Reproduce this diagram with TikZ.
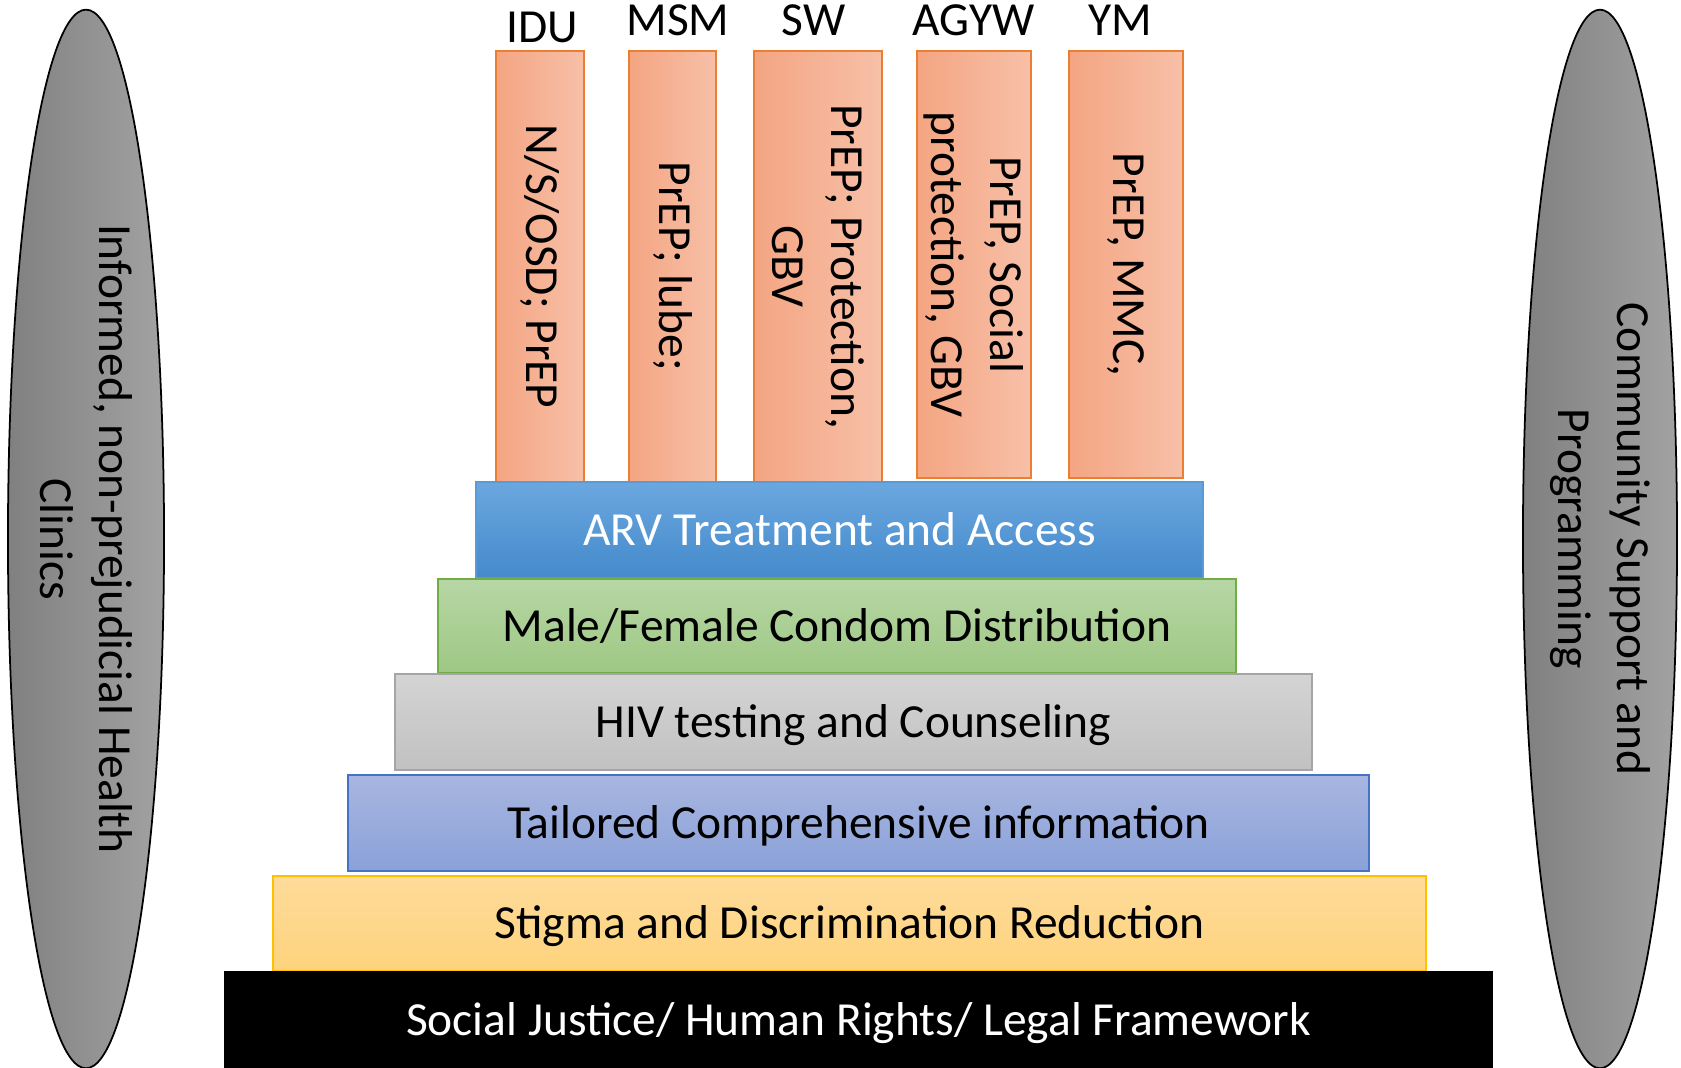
\documentclass[tikz,border=0pt]{standalone}
\usepackage{fontspec}
\setmainfont{Carlito}
\usetikzlibrary{shapes.geometric}
\definecolor{colL}{RGB}{244,165,130}
\definecolor{colR}{RGB}{247,192,168}
\definecolor{colline}{RGB}{237,125,49}
\definecolor{arvT}{RGB}{107,167,223}
\definecolor{arvB}{RGB}{68,138,204}
\definecolor{arvline}{RGB}{91,155,213}
\definecolor{conT}{RGB}{183,214,165}
\definecolor{conB}{RGB}{158,200,132}
\definecolor{conline}{RGB}{112,173,71}
\definecolor{hivT}{RGB}{212,212,212}
\definecolor{hivB}{RGB}{193,193,193}
\definecolor{hivline}{RGB}{165,165,165}
\definecolor{infT}{RGB}{168,182,224}
\definecolor{infB}{RGB}{138,161,216}
\definecolor{infline}{RGB}{68,114,196}
\definecolor{stgT}{RGB}{254,219,154}
\definecolor{stgB}{RGB}{254,211,125}
\definecolor{stgline}{RGB}{255,192,0}
\definecolor{ovalL}{RGB}{128,128,128}
\definecolor{ovalR}{RGB}{162,162,162}
\newcommand{\pyrfont}{\fontsize{13.5}{16.8}\selectfont}
\begin{document}
\begin{tikzpicture}[
  x=0.01cm, y=0.01cm,
  tier/.style={draw=#1, line width=0.5pt, inner sep=0pt,
               minimum height=0.96cm, font=\pyrfont,
               text height=0.86em, text depth=0pt},
  col/.style={draw=colline, line width=0.5pt, rotate=-90,
              left color=colL, right color=colR, align=center,
              inner sep=0pt, font=\pyrfont},
  grp/.style={anchor=base, inner sep=0pt, font=\pyrfont},
  oval/.style={ellipse, draw=black, line width=0.5pt, rotate=-90,
               left color=ovalL, right color=ovalR, align=center,
               inner sep=0pt, minimum width=10.58cm, font=\pyrfont},
]
\useasboundingbox (0,0) rectangle (1681,1068);
%% side ovals
\node[oval, minimum height=1.56cm] (clinics) at (86,529)
  {Informed, non-prejudicial Health\\Clinics};
\node[oval, minimum height=1.54cm] (community) at (1600,529)
  {Community Support and\\Programming};
%% population columns
\node[col, minimum width=4.31cm, minimum height=0.88cm] (idu) at (540,801.5)
  {N/S/OSD; PrEP};
\node[col, minimum width=4.31cm, minimum height=0.87cm] (msm) at (672.5,801.5)
  {PrEP; lube;};
\node[col, minimum width=4.31cm, minimum height=1.28cm] (sw) at (818,801.5)
  {PrEP; Protection,\\GBV};
\node[col, minimum width=4.27cm, minimum height=1.14cm] (agyw) at (974,803.5)
  {PrEP, Social\\protection, GBV};
\node[col, minimum width=4.27cm, minimum height=1.14cm] (ym) at (1126,803.5)
  {PrEP, MMC,};
%% column headings
\node[grp] (lbl-idu) at (542,1025) {IDU};
\node[grp] (lbl-msm) at (678,1032) {MSM};
\node[grp] (lbl-sw) at (813.5,1032) {SW};
\node[grp] (lbl-agyw) at (973.5,1032) {AGYW};
\node[grp] (lbl-ym) at (1120,1032) {YM};
%% pyramid tiers, top to bottom
\node[tier=arvline, top color=arvT, bottom color=arvB, text=white,
      minimum width=7.27cm] (arv) at (839.5,538)
  {ARV Treatment and Access};
\node[tier=conline, top color=conT, bottom color=conB,
      minimum width=7.98cm, minimum height=0.94cm] (condom) at (837,442)
  {Male/Female Condom Distribution};
\node[tier=hivline, top color=hivT, bottom color=hivB,
      minimum width=9.17cm] (hiv) at (853.5,346)
  {HIV testing and Counseling};
\node[tier=infline, top color=infT, bottom color=infB,
      minimum width=10.21cm] (info) at (858.5,245)
  {Tailored Comprehensive information};
\node[tier=stgline, top color=stgT, bottom color=stgB,
      minimum width=11.53cm, minimum height=0.95cm] (stigma) at (849.5,144.5)
  {Stigma and Discrimination Reduction};
\node[tier=black, fill=black, text=white,
      minimum width=12.67cm] (justice) at (858.5,48)
  {Social Justice/ Human Rights/ Legal Framework};
\end{tikzpicture}
\end{document}
